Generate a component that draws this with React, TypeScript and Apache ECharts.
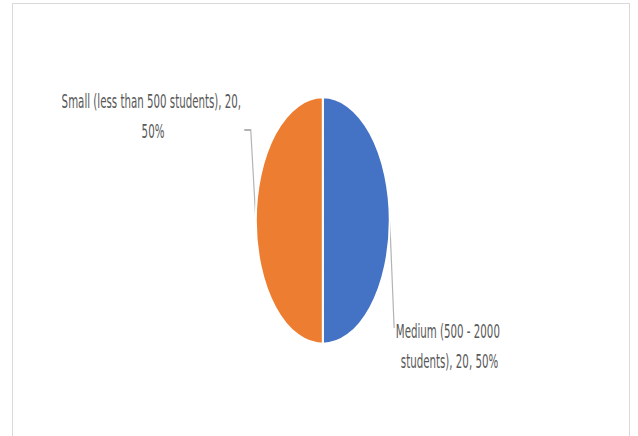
import React, { useEffect, useRef } from "react";
import * as echarts from "echarts";

// ---- data ----
const categories: string[] = ["Medium (500 - 2000 students)", "Small (less than 500 students)"];
const values: number[] = [20, 20];
const sliceColors: string[] = ["#4472C4", "#ED7D31"];

// ---- layout (horizontal squeeze to reproduce the elliptical pie) ----
const SCALE_X = 0.54;
const VIEW_W = 638;
const VIEW_H = 436;
const CHART_W = Math.round(VIEW_W / SCALE_X);
const PIE_CX = 322.8 / SCALE_X;
const PIE_CY = 220.5;
const PIE_R = 124;
const LABEL_X: number[] = [449.5 / SCALE_X, 153 / SCALE_X];
const LABEL_Y: number[] = [317, 87];
const LABEL_W: number[] = [205, 350];

export default function App() {
  const ref = useRef<HTMLDivElement>(null);

  useEffect(() => {
    if (!ref.current) return;
    const chart = echarts.init(ref.current, undefined, { renderer: "svg" });
    const data = categories.map((name, i) => ({
      name,
      value: values[i],
      itemStyle: { color: sliceColors[i] },
      label: { width: LABEL_W[i] },
    }));
    chart.setOption({
      animation: false,
      backgroundColor: "transparent",
      series: [
        {
          type: "pie",
          center: [PIE_CX, PIE_CY],
          radius: PIE_R,
          startAngle: 90,
          clockwise: true,
          data,
          itemStyle: { borderColor: "#ffffff", borderWidth: 3.7 },
          label: {
            show: true,
            position: "outside",
            formatter: "{b}, {c}, {d}%",
            overflow: "break",
            color: "#595959",
            fontFamily: "DejaVu Sans",
            fontSize: 19,
            lineHeight: 30,
            align: "center",
          },
          labelLine: {
            show: true,
            length: 10,
            length2: 10,
            lineStyle: { color: "#b3b3b3", width: 2.2 },
          },
          labelLayout: (p: any) => {
            const i = p.dataIndex;
            const w = p.labelRect.width;
            const lx = LABEL_X[i];
            const ly = LABEL_Y[i];
            const left = lx - w / 2;
            const right = lx + w / 2;
            const start = p.labelLinePoints ? p.labelLinePoints[0] : [PIE_CX, PIE_CY];
            const pts =
              i === 0
                ? [start, [left, ly + 11]]
                : [start, [right + 6, ly + 43], [right - 6, ly + 43]];
            return {
              x: lx,
              y: ly,
              align: "center",
              verticalAlign: "top",
              labelLinePoints: pts,
            };
          },
        },
      ],
    });
    return () => chart.dispose();
  }, []);

  return (
    <div
      style={{
        position: "fixed",
        left: 0,
        top: 0,
        width: VIEW_W,
        height: VIEW_H,
        overflow: "hidden",
        background: "#ffffff",
      }}
    >
      <div
        style={{
          position: "absolute",
          left: 12,
          top: 3,
          width: 618,
          height: 500,
          border: "1.5px solid #d9d9d9",
          boxSizing: "border-box",
        }}
      />
      <div
        ref={ref}
        style={{
          position: "absolute",
          left: 0,
          top: 0,
          width: CHART_W,
          height: VIEW_H,
          transform: `scaleX(${SCALE_X})`,
          transformOrigin: "0 0",
        }}
      />
    </div>
  );
}
